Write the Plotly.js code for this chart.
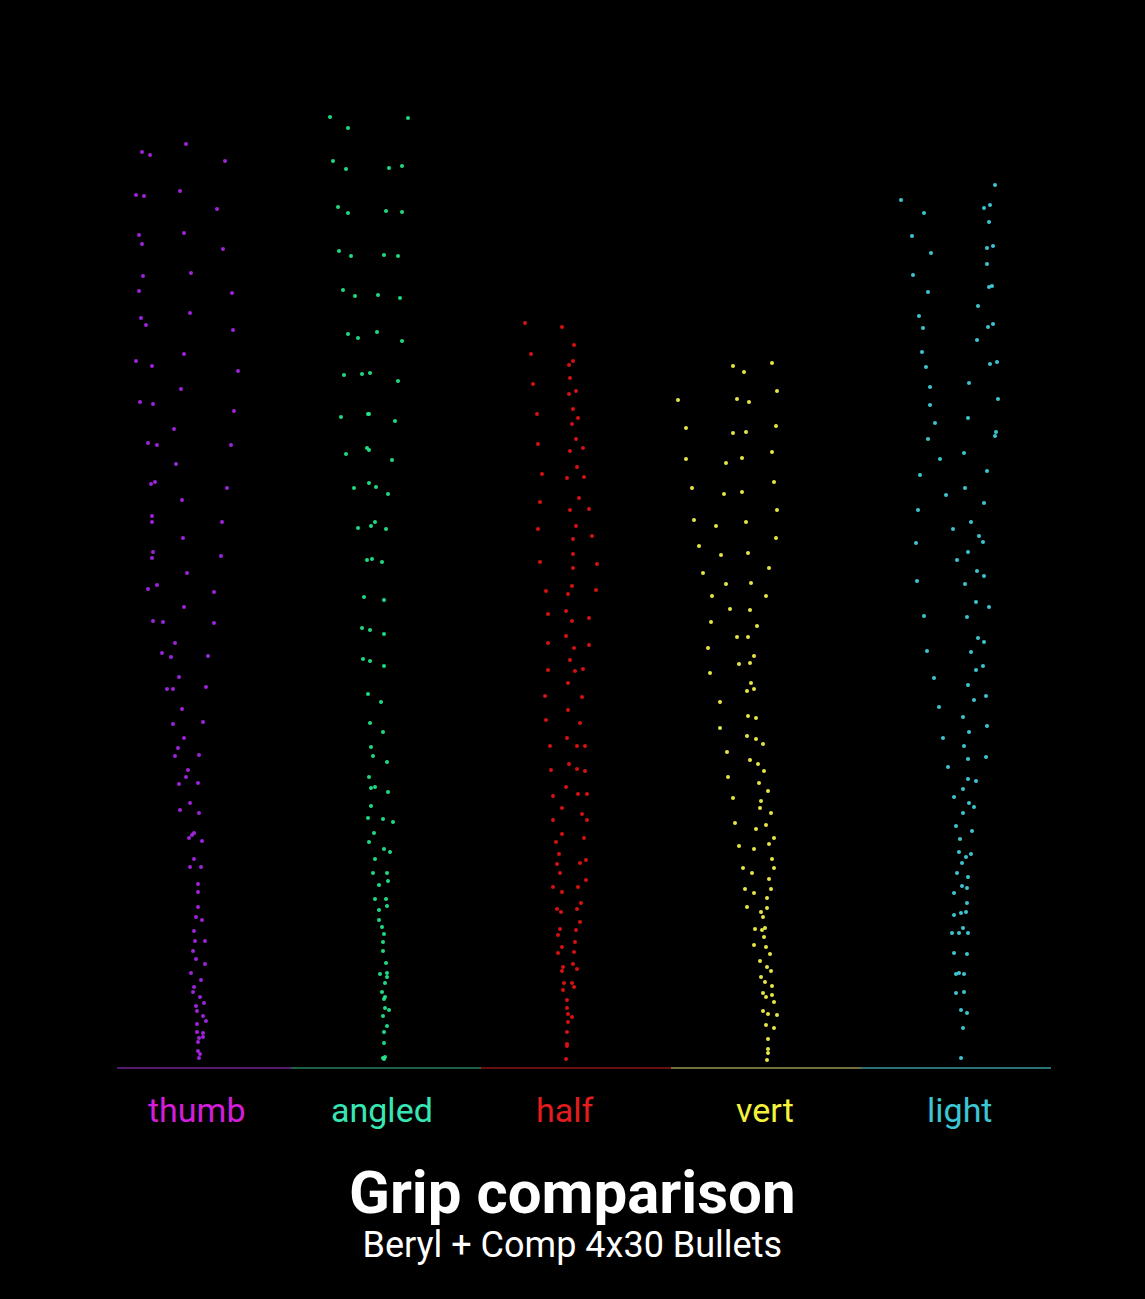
<!DOCTYPE html>
<html>
<head>
<meta charset="utf-8">
<script src="https://cdn.plot.ly/plotly-3.0.1.min.js"></script>
<style>html,body{margin:0;padding:0;background:#000;}#chart{width:1145px;height:1299px;}</style>
</head>
<body>
<div id="chart"></div>
<script>
// Grip categories and the x position (horizontal units) where each spray starts
const grips = ["thumb", "angled", "half", "vert", "light"];
const origins = [199, 384, 566, 767, 961];
const segmentEdges = [117, 291, 481, 671, 861, 1051];
const titleText = "Grip comparison";
const subtitleText = "Beryl + Comp 4x30 Bullets";

// Horizontal offset from spray origin and height above baseline (4x30 bullets per grip)
const thumbDx = [-57,-49,-13,26,-63,-55,-19,18,-60,-57,-15,24,-56,-8,-60,33,-58,-53,-9,34,-63,-47,-15,39,-18,-59,-46,35,-25,-51,-42,32,-23,-48,-44,28,-17,-47,-47,23,-16,-46,-47,22,-12,-51,-42,15,
  -15,15,-46,-36,-24,-37,-28,9,-20,-32,-26,7,-17,-26,4,-15,-21,-24,0,-11,-13,-20,-1,-9,-19,0,-7,-10,-5,3,-5,-9,2,-1,-1,-1,-3,3,-5,-4,6,-6,-3,6,-8,2,-5,-6,1,5,-3,-2,4,7,-2,-2,4,4,0,-1,-1,1,0];
const thumbH = [916,913,924,907,873,872,877,859,833,824,835,819,792,795,777,775,750,743,755,738,707,702,714,697,679,666,664,657,639,625,623,623,604,584,586,580,568,552,546,546,530,516,510,512,495,479,483,476,
  461,445,447,446,425,415,411,412,391,379,379,381,359,344,346,330,320,312,313,298,291,284,285,265,258,255,233,230,235,227,209,201,201,184,176,161,151,148,137,127,127,117,109,104,95,88,81,76,71,65,62,57,52,47,44,36,35,31,30,26,17,14,10];

const angledDx = [-54,24,-36,-51,-38,5,18,-46,-36,2,18,-45,-33,0,14,-41,-29,-6,16,-36,-26,-7,18,-40,-22,-14,14,-43,-16,-15,11,-38,-17,-15,8,-30,-15,-8,4,-26,-13,-9,2,-17,-12,-2,
  -20,0,-22,-14,0,-21,-14,0,-16,-3,-14,-1,-13,-11,3,-15,-13,-9,4,-13,-16,-1,9,-10,-15,0,6,-9,-11,3,4,-5,-9,3,2,-5,-5,-2,0,-1,-1,2,-4,3,3,1,-2,1,0,1,5,-1,3,0,0,-1,1,0];
const angledH = [951,950,940,907,899,900,902,861,855,857,856,817,812,813,812,778,772,773,770,734,730,736,727,693,694,695,687,651,654,654,647,614,620,618,608,580,585,581,574,540,542,546,539,508,509,506,
  471,468,440,438,434,409,407,402,374,366,345,336,321,312,306,291,280,281,276,262,250,249,246,235,226,219,216,209,195,195,187,183,169,162,169,158,148,141,134,126,117,105,94,95,91,85,76,71,69,60,58,52,42,36,25,10,11,9];

const halfDx = [-41,-4,8,-35,7,3,4,-33,10,3,7,-29,12,6,10,-28,17,4,11,-24,18,1,13,-26,23,4,10,-28,26,7,7,-26,31,7,6,-20,2,30,0,-18,6,23,0,-18,8,23,4,-18,9,17,2,
  -21,16,2,-20,14,1,-16,11,19,3,-15,11,19,0,-13,12,21,-4,-13,16,21,-4,-10,18,-7,-9,14,20,-6,-13,12,20,-4,-9,-5,11,15,-6,-8,10,14,-4,-8,9,8,-3,-4,7,11,-2,-3,6,8,1,1,2,6,2,1,1,1,0];
const halfH = [745,741,723,714,707,703,690,684,677,674,659,654,650,644,629,624,620,617,601,594,591,590,570,566,559,558,542,539,532,529,514,506,504,500,482,477,474,478,457,454,447,450,432,425,420,423,408,398,397,399,385,
  372,371,358,348,345,330,322,322,322,304,298,299,297,281,272,274,274,260,248,254,248,234,226,230,214,204,205,208,195,181,181,188,176,159,156,159,165,139,133,138,146,121,115,126,116,101,97,104,99,85,78,85,81,68,60,54,51,46,36,24,22,9];

const vertDx = [-34,-23,5,-89,-30,-18,10,-81,-34,-21,9,-81,-41,-25,5,-75,-43,-25,7,-73,-51,-21,10,-68,-46,-19,9,-64,-41,-16,2,-55,-37,-17,-1,-56,-30,-19,-10,-59,-28,-17,-13,-57,-16,-20,-13,-47,
  -19,-11,-47,-20,-11,-4,-40,-17,-9,-3,-39,-8,1,-34,-6,-7,4,-32,-1,-11,-28,-13,2,7,-24,-15,5,7,-22,-13,2,4,-20,-6,-4,0,0,-12,-5,-2,-3,-13,-1,3,-7,0,4,-6,-2,5,-4,-1,5,7,-4,1,10,-1,7,1,1,1,0];
const vertH = [702,696,705,668,669,666,677,640,635,636,642,609,605,610,616,580,574,576,586,548,542,546,558,522,513,515,530,495,484,485,500,472,459,458,472,446,431,431,442,420,404,405,412,395,385,377,379,366,
  352,350,340,332,329,324,316,308,304,297,291,285,277,270,267,260,255,245,243,239,222,219,224,230,200,195,209,200,179,175,189,179,161,156,151,170,160,139,138,140,131,123,121,114,107,101,97,91,86,82,75,71,73,66,57,54,53,43,40,29,19,15,8];

const lightDx = [34,-60,23,29,-37,28,-49,26,32,-30,26,-48,28,31,-33,17,-42,27,32,-38,16,-39,-35,29,36,8,-31,37,-31,7,-26,-33,35,34,3,-21,-41,26,4,-15,23,-43,10,-8,18,22,-45,7,-4,16,23,-44,4,15,28,-37,6,
  17,23,-34,10,15,22,-27,7,13,25,-22,2,26,-18,8,3,25,-13,7,7,15,-7,2,8,13,2,-5,11,-1,-2,5,10,1,-4,7,1,6,-7,6,5,-7,0,-9,-2,2,7,-7,6,-5,-2,3,-5,3,0,6,2,0];
const lightH = [883,868,860,863,855,846,832,820,822,815,804,793,781,782,776,762,752,741,744,740,728,716,701,704,706,685,681,669,663,650,645,629,636,632,615,609,593,597,580,573,565,558,546,539,532,526,525,516,508,497,492,487,484,466,461,452,451,
  430,426,417,416,398,402,390,383,368,372,361,351,342,330,336,322,311,301,309,289,287,271,279,265,261,255,242,237,229,216,211,214,205,195,191,182,180,175,165,156,153,155,135,135,140,135,115,114,94,95,94,75,76,58,55,40,10];

const dxSeries = [thumbDx, angledDx, halfDx, vertDx, lightDx];
const hSeries = [thumbH, angledH, halfH, vertH, lightH];

const pointColors = ["#a526e6", "#22e68a", "#e01212", "#f2f04a", "#3fcfdc"];
const labelColors = ["#d21ed8", "#38e6b4", "#e41c1c", "#f4f23c", "#3cc6d4"];
const lineColors = ["#6e2490", "#2a8060", "#8a1616", "#9a9450", "#3a9aa2"];

const traces = [];
grips.forEach((g, i) => {
  traces.push({
    type: "scatter", mode: "markers", name: g,
    x: dxSeries[i].map(d => origins[i] + d),
    y: hSeries[i],
    marker: {size: 4, color: pointColors[i], opacity: 0.95},
    hoverinfo: "skip", showlegend: false
  });
  traces.push({
    type: "scatter", mode: "lines",
    x: [segmentEdges[i], segmentEdges[i + 1]], y: [0, 0],
    line: {color: lineColors[i], width: 1.5},
    hoverinfo: "skip", showlegend: false
  });
});

const annotations = grips.map((g, i) => ({
  x: origins[i], y: -0.0297, xref: "x", yref: "paper", xshift: -2,
  text: g, showarrow: false, xanchor: "center", yanchor: "middle",
  font: {family: "Roboto, sans-serif", size: 34, color: labelColors[i]}
}));
annotations.push({
  x: 0.4877, y: -0.1235, xref: "paper", yref: "paper",
  text: "<span style='font-size:60px'><b>" + titleText + "</b></span><br><span style='font-size:36px'>" + subtitleText + "</span>",
  showarrow: false, xanchor: "center", yanchor: "middle", align: "center",
  font: {family: "Roboto, sans-serif", size: 34, color: "#ffffff"}
});

const layout = {
  width: 1145, height: 1299,
  margin: {l: 117, r: 94, t: 0, b: 221, pad: 0},
  paper_bgcolor: "#000000", plot_bgcolor: "#000000",
  xaxis: {range: [117, 1051], visible: false, fixedrange: true},
  yaxis: {range: [-10, 1068], visible: false, fixedrange: true},
  annotations: annotations,
  showlegend: false
};

Plotly.newPlot("chart", traces, layout, {displayModeBar: false, staticPlot: true});
</script>
</body>
</html>
